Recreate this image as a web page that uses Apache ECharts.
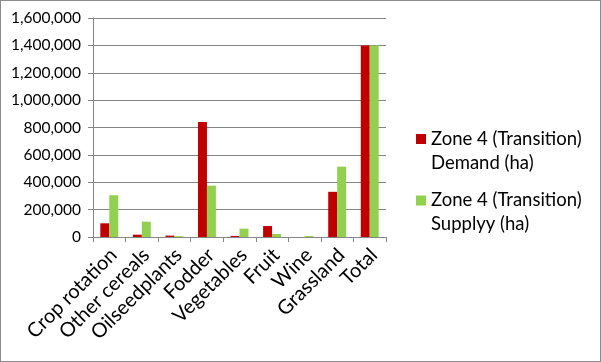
<!DOCTYPE html>
<html>
<head>
<meta charset="utf-8">
<script src="https://cdn.jsdelivr.net/npm/echarts@6/dist/echarts.min.js"></script>
<style>
html,body{margin:0;padding:0;background:#fff;}
#wrap{width:601px;height:362px;box-sizing:border-box;border:1px solid #8c8c8c;position:relative;}
#chart{width:599px;height:360px;}
</style>
</head>
<body>
<div id="wrap"><div id="chart"></div></div>
<script>
const categories = ['Crop rotation','Other cereals','Oilseedplants','Fodder','Vegetables','Fruit','Wine','Grassland','Total'];
const demand = [100000, 17000, 10000, 840000, 8000, 80000, 0, 330000, 1400000];
const supply = [305000, 112000, 6000, 375000, 61000, 22000, 7000, 514000, 1400000];
const yTicks = [0, 200000, 400000, 600000, 800000, 1000000, 1200000, 1400000, 1600000];
const seriesNames = ['Zone 4 (Transition)\nDemand (ha)', 'Zone 4 (Transition)\nSupplyy (ha)'];

const FONT = 'Lato';
const chart = echarts.init(document.getElementById('chart'));
chart.setOption({
  animation: false,
  textStyle: {fontFamily: FONT},
  grid: {left: 92, right: 214, top: 17, bottom: 124, containLabel: false},
  legend: {
    orient: 'vertical',
    left: 410,
    top: 97,
    itemWidth: 10,
    itemHeight: 10,
    itemGap: -8,
    icon: 'rect',
    data: seriesNames,
    formatter: name => '{e| }\n' + name.split('\n').map(s => '{t|' + s + '}').join('\n'),
    textStyle: {
      fontFamily: FONT, fontSize: 18.5, color: '#000',
      rich: {
        e: {fontFamily: FONT, fontSize: 18.5, lineHeight: 24, height: 24},
        t: {fontFamily: FONT, fontSize: 18.5, lineHeight: 24, color: '#000'}
      }
    }
  },
  xAxis: {
    type: 'category',
    data: categories,
    axisLine: {lineStyle: {color: '#868686'}},
    axisTick: {show: true, length: 5, lineStyle: {color: '#868686'}},
    axisLabel: {rotate: 45, interval: 0, fontFamily: FONT, fontSize: 20, color: '#000', margin: 19,
      padding: [10, -6, 0, 0]}
  },
  yAxis: {
    type: 'value',
    min: 0,
    max: 1600000,
    interval: 200000,
    axisLine: {show: true, lineStyle: {color: '#868686'}},
    axisTick: {show: true, length: 5, lineStyle: {color: '#868686'}},
    splitLine: {lineStyle: {color: '#868686'}},
    axisLabel: {fontFamily: FONT, fontSize: 15.5, color: '#000', margin: 12,
      formatter: v => v.toLocaleString('en-US')}
  },
  series: [
    {name: seriesNames[0], type: 'bar', data: demand, barGap: '0%', barCategoryGap: '45%', itemStyle: {color: '#C00000'}},
    {name: seriesNames[1], type: 'bar', data: supply, barGap: '0%', barCategoryGap: '45%', itemStyle: {color: '#92D050'}}
  ]
});
</script>
</body>
</html>
